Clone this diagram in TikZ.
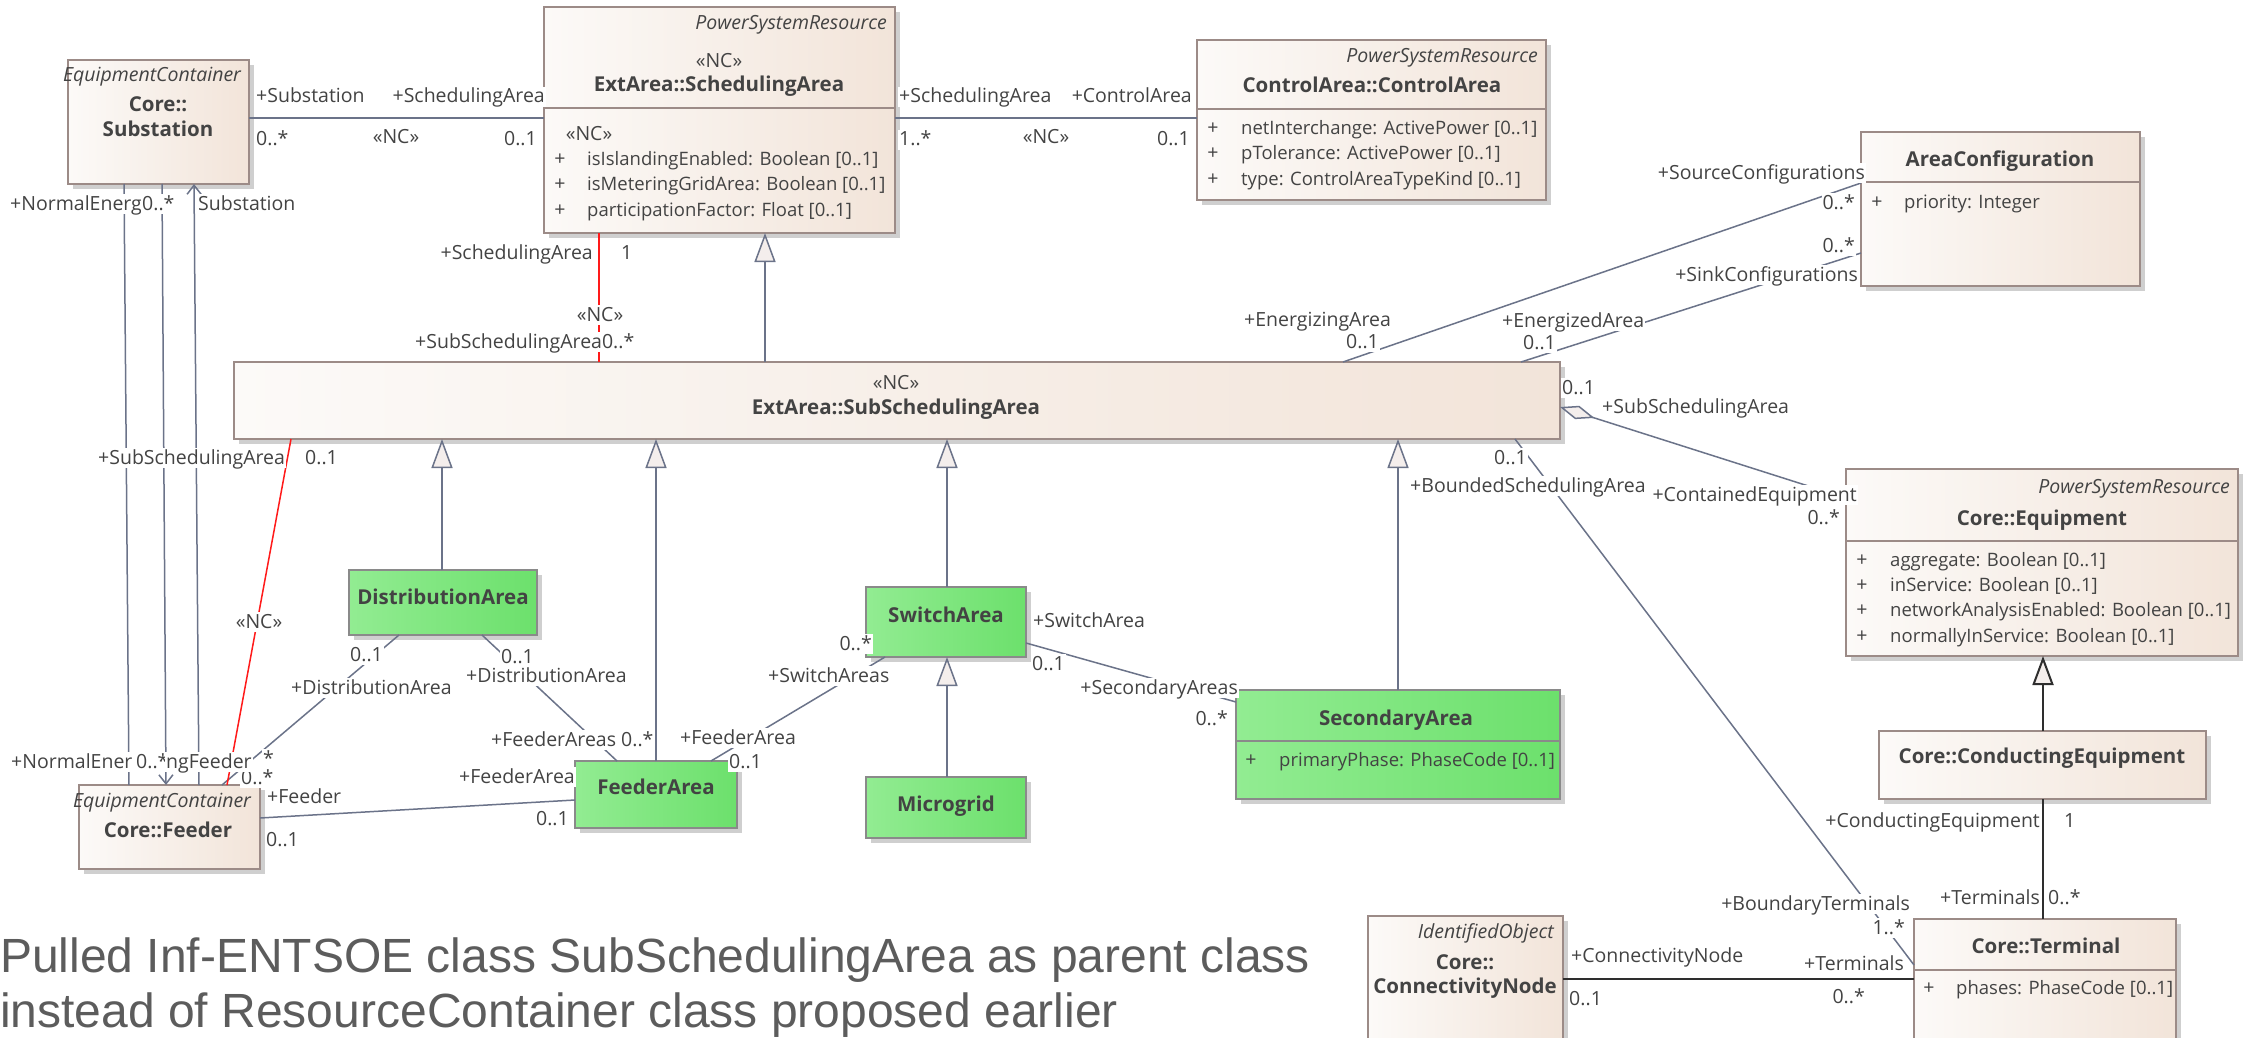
\documentclass[tikz,border=0pt]{standalone}
\usepackage{fontspec}
\setmainfont{Open Sans}
\newfontfamily\capfont{Liberation Sans}
\usetikzlibrary{arrows.meta,calc}
\definecolor{txt}{HTML}{434343}
\definecolor{lnc}{HTML}{6B7389}
\definecolor{bdr}{HTML}{9C8B87}
\definecolor{bgL}{HTML}{FCFAF8}
\definecolor{bgR}{HTML}{F2E4D9}
\definecolor{grL}{HTML}{92EC92}
\definecolor{grR}{HTML}{6CE06C}
\definecolor{grB}{HTML}{8A8A8A}
\definecolor{shd}{HTML}{CFCFCF}
\definecolor{redl}{HTML}{FF1A1A}
\definecolor{dark}{HTML}{2E2E2E}
\definecolor{capc}{HTML}{5C5C5C}
\definecolor{trif}{HTML}{F4EEEC}
\begin{document}
\begin{tikzpicture}[x=1pt,y=-1pt,
  cls/.style={draw=bdr, line width=1.3pt, left color=bgL, right color=bgR, anchor=north west,
    inner sep=0pt, outer sep=0pt, preaction={fill=shd, transform canvas={xshift=5pt,yshift=-5pt}}},
  grn/.style={cls, draw=grB, left color=grL, right color=grR},
  divl/.style={draw=bdr, line width=1.3pt},
  lbl/.style={font=\fontsize{19.5}{22}\selectfont, text=txt, fill=white, inner sep=1pt, text height=15pt, text depth=3pt},
  plain/.style={font=\fontsize{19.5}{22}\selectfont, text=txt, inner sep=0pt, text height=15pt, text depth=3pt},
  ttl/.style={font=\fontsize{20.5}{23}\selectfont\bfseries, text=txt, inner sep=0pt, text height=15pt, text depth=3pt},
  ster/.style={font=\fontsize{19.5}{22}\selectfont\itshape, text=txt, inner sep=0pt, text height=15pt, text depth=3pt},
  attr/.style={font=\fontsize{18.5}{22}\selectfont, text=txt, inner sep=0pt, text height=15pt, text depth=3pt, anchor=west},
  assoc/.style={draw=lnc, line width=1.5pt},
  redc/.style={draw=redl, line width=1.5pt},
  darkc/.style={draw=dark, line width=2pt},
  gen/.style={-{Triangle[length=29pt,width=21pt,fill=trif]}},
  capn/.style={font=\capfont\fontsize{48}{56}\selectfont, text=capc, inner sep=0pt, anchor=base west}
]
\clip (0,0) rectangle (2253,1038);
\fill[white] (0,0) rectangle (2253,1038);

% ---------------- boxes
\node[cls, minimum width=181pt, minimum height=124pt] (subst) at (68,60) {};
\node[cls, minimum width=351pt, minimum height=226pt] (sched) at (544,7) {};
\node[cls, minimum width=349pt, minimum height=160pt] (ctrl) at (1197,40) {};
\node[cls, minimum width=279pt, minimum height=154pt] (areaconf) at (1861,132) {};
\node[cls, minimum width=1326pt, minimum height=77pt] (subsched) at (234,362) {};
\node[cls, minimum width=392pt, minimum height=187pt] (equip) at (1846,469) {};
\node[cls, minimum width=327pt, minimum height=68pt] (conduct) at (1879,731) {};
\node[cls, minimum width=262pt, minimum height=140pt] (term) at (1914,919) {};
\node[cls, minimum width=195pt, minimum height=140pt] (cnode) at (1368,916) {};
\node[grn, minimum width=188pt, minimum height=65pt] (dist) at (349,570) {};
\node[grn, minimum width=160pt, minimum height=70pt] (switch) at (866,587) {};
\node[grn, minimum width=160pt, minimum height=61pt] (micro) at (866,777) {};
\node[grn, minimum width=162pt, minimum height=67pt] (farea) at (575,761) {};
\node[grn, minimum width=324pt, minimum height=109pt] (sec) at (1236,690) {};
\node[cls, minimum width=181pt, minimum height=84pt] (feeder) at (79,785) {};

% dividers
\draw[divl] ($(sched.north west)+(0,101)$) -- ($(sched.north east)+(0,101)$);
\draw[divl] ($(ctrl.north west)+(0,69)$) -- ($(ctrl.north east)+(0,69)$);
\draw[divl] ($(areaconf.north west)+(0,50)$) -- ($(areaconf.north east)+(0,50)$);
\draw[divl] ($(equip.north west)+(0,72)$) -- ($(equip.north east)+(0,72)$);
\draw[divl] ($(term.north west)+(0,51)$) -- ($(term.north east)+(0,51)$);
\draw[divl, draw=grB] ($(sec.north west)+(0,51)$) -- ($(sec.north east)+(0,51)$);

% ---------------- box texts
\node[ster] (substSt) at (152,76) {EquipmentContainer};
\node[ttl] (substN1) at (158,106) {Core::};
\node[ttl] (substN2) at (158,130) {Substation};

\node[ster, anchor=east] (schedSt) at (887,24) {PowerSystemResource};
\node[plain] (schedNC) at (719,62) {«NC»};
\node[ttl] (schedN) at (719,86) {ExtArea::SchedulingArea};
\node[plain] (schedNC2) at (589,135) {«NC»};
\node[plain] (schedP1) at (560,159) {+};
\node[attr] (schedA1) at (587,159) {isIslandingEnabled: Boolean [0..1]};
\node[plain] (schedP2) at (560,184) {+};
\node[attr] (schedA2) at (587,184) {isMeteringGridArea: Boolean [0..1]};
\node[plain] (schedP3) at (560,210) {+};
\node[attr] (schedA3) at (587,210) {participationFactor: Float [0..1]};

\node[ster, anchor=east] (ctrlSt) at (1538,57) {PowerSystemResource};
\node[ttl] (ctrlN) at (1372,87) {ControlArea::ControlArea};
\node[plain] (ctrlP1) at (1213,129) {+};
\node[attr] (ctrlA1) at (1241,129) {netInterchange: ActivePower [0..1]};
\node[plain] (ctrlP2) at (1213,154) {+};
\node[attr] (ctrlA2) at (1241,154) {pTolerance: ActivePower [0..1]};
\node[plain] (ctrlP3) at (1213,179) {+};
\node[attr] (ctrlA3) at (1241,179) {type: ControlAreaTypeKind [0..1]};

\node[ttl] (acN) at (2000,160) {AreaConfiguration};
\node[plain] (acP1) at (1877,202) {+};
\node[attr] (acA1) at (1904,202) {priority: Integer};

\node[plain] (ssNC) at (896,383) {«NC»};
\node[ttl] (ssN) at (896,408) {ExtArea::SubSchedulingArea};

\node[ster, anchor=east] (eqSt) at (2230,487) {PowerSystemResource};
\node[ttl] (eqN) at (2042,519) {Core::Equipment};
\node[plain] (eqP1) at (1862,560) {+};
\node[attr] (eqA1) at (1890,560) {aggregate: Boolean [0..1]};
\node[plain] (eqP2) at (1862,585) {+};
\node[attr] (eqA2) at (1890,585) {inService: Boolean [0..1]};
\node[plain] (eqP3) at (1862,610) {+};
\node[attr] (eqA3) at (1890,610) {networkAnalysisEnabled: Boolean [0..1]};
\node[plain] (eqP4) at (1862,636) {+};
\node[attr] (eqA4) at (1890,636) {normallyInService: Boolean [0..1]};

\node[ttl] (ceN) at (2042,757) {Core::ConductingEquipment};

\node[ttl] (tN) at (2046,947) {Core::Terminal};
\node[plain] (tP1) at (1929,988) {+};
\node[attr] (tA1) at (1956,988) {phases: PhaseCode [0..1]};

\node[ster, anchor=east] (cnSt) at (1554,932) {IdentifiedObject};
\node[ttl] (cnN1) at (1465,963) {Core::};
\node[ttl] (cnN2) at (1465,987) {ConnectivityNode};

\node[ttl] (distN) at (443,598) {DistributionArea};
\node[ttl] (swN) at (946,616) {SwitchArea};
\node[ttl] (mgN) at (946,805) {Microgrid};
\node[ttl] (faN) at (656,788) {FeederArea};
\node[ttl] (secN) at (1396,719) {SecondaryArea};
\node[plain] (secP1) at (1251,760) {+};
\node[attr] (secA1) at (1279,760) {primaryPhase: PhaseCode [0..1]};

\node[ster] (fdSt) at (162,801) {EquipmentContainer};
\node[ttl] (fdN) at (168,831) {Core::Feeder};

% ---------------- connectors
\draw[assoc] ($(subst.north east)+(0,58)$) -- ($(sched.north west)+(0,111)$);
\draw[assoc] ($(sched.north east)+(0,111)$) -- ($(ctrl.north west)+(0,78)$);
\draw[redc] ($(sched.south west)+(55,0)$) -- ($(subsched.north west)+(365,0)$);
\draw[assoc, gen] ($(subsched.north west)+(531,0)$) -- ($(sched.south west)+(221,0)$);
\draw[assoc] ($(subsched.north west)+(1109,0)$) -- ($(areaconf.north west)+(0,51)$);
\draw[assoc] ($(subsched.north west)+(1287,0)$) -- ($(areaconf.north west)+(0,121)$);
\draw[assoc, {Diamond[length=36pt,width=14pt,fill=trif]}-] ($(subsched.north east)+(0,45)$) -- ($(equip.north west)+(0,29)$);
\draw[assoc] ($(subsched.south west)+(1281,0)$) -- ($(term.north west)+(0,46)$);
\draw[darkc, gen] ($(conduct.north west)+(164,0)$) -- ($(equip.south west)+(197,0)$);
\draw[darkc] ($(conduct.south west)+(164,0)$) -- ($(term.north west)+(129,0)$);
\draw[darkc] ($(cnode.north east)+(0,63)$) -- ($(term.north west)+(0,60)$);
\draw[assoc, gen] ($(dist.north west)+(93,0)$) -- ($(subsched.south west)+(208,0)$);
\draw[assoc, gen] ($(farea.north west)+(81,0)$) -- ($(subsched.south west)+(422,0)$);
\draw[assoc, gen] ($(switch.north west)+(81,0)$) -- ($(subsched.south west)+(713,0)$);
\draw[assoc, gen] ($(sec.north west)+(162,0)$) -- ($(subsched.south west)+(1164,0)$);
\draw[assoc, gen] ($(micro.north west)+(81,0)$) -- ($(switch.south west)+(81,0)$);
\draw[assoc] ($(switch.north east)+(0,56)$) -- ($(sec.north west)+(0,12)$);
\draw[assoc] ($(switch.south west)+(19,0)$) -- ($(farea.north west)+(136,0)$);
\draw[assoc] ($(dist.south west)+(133,0)$) -- ($(farea.north west)+(42,0)$);
\draw[assoc] ($(dist.south west)+(50,0)$) -- ($(feeder.north west)+(143,0)$);
\draw[assoc] ($(feeder.north east)+(0,33)$) -- ($(farea.north west)+(0,39)$);
\draw[redc] ($(subsched.south west)+(57,0)$) -- ($(feeder.north west)+(148,0)$);
\draw[assoc] ($(subst.south west)+(56,0)$) -- ($(feeder.north west)+(50,0)$);
\draw[assoc, -{Straight Barb[length=9pt,width=14pt]}] ($(subst.south west)+(94,0)$) -- ($(feeder.north west)+(87,0)$);
\draw[assoc, {Straight Barb[length=9pt,width=14pt]}-] ($(subst.south west)+(126,0)$) -- ($(feeder.north west)+(120,0)$);

% ---------------- connector labels
\node[lbl, anchor=west] (L1) at (255,97) {+Substation};
\node[lbl, anchor=east] (L2) at (546,97) {+SchedulingArea};
\node[lbl, anchor=west] (L3) at (255,140) {0..*};
\node[lbl] (L4) at (396,137) {«NC»};
\node[lbl, anchor=east] (L5) at (538,140) {0..1};

\node[lbl, anchor=west] (L6) at (898,97) {+SchedulingArea};
\node[lbl, anchor=east] (L7) at (1193,97) {+ControlArea};
\node[lbl, anchor=west] (L8) at (898,140) {1..*};
\node[lbl] (L9) at (1046,137) {«NC»};
\node[lbl, anchor=east] (L10) at (1191,140) {0..1};

\node[lbl, anchor=east] (L11) at (594,253) {+SchedulingArea};
\node[lbl, anchor=west] (L12) at (620,253) {1};
\node[lbl] (L13) at (600,315) {«NC»};
\node[lbl, anchor=west] (L14) at (414,342) {+SubSchedulingArea0..*};

\node[lbl, anchor=west] (L15) at (1243,320) {+EnergizingArea};
\node[lbl, anchor=west] (L16) at (1345,342) {0..1};
\node[lbl, anchor=east] (L17) at (1866,173) {+SourceConfigurations};
\node[lbl, anchor=east] (L18) at (1856,203) {0..*};

\node[lbl, anchor=west] (L19) at (1501,321) {+EnergizedArea};
\node[lbl, anchor=west] (L20) at (1522,343) {0..1};
\node[lbl, anchor=east] (L21) at (1856,246) {0..*};
\node[lbl, anchor=east] (L22) at (1859,275) {+SinkConfigurations};

\node[lbl, anchor=west] (L23) at (1561,388) {0..1};
\node[lbl, anchor=west] (L24) at (1601,407) {+SubSchedulingArea};
\node[lbl, anchor=east] (L25) at (1858,495) {+ContainedEquipment};
\node[lbl, anchor=east] (L26) at (1841,518) {0..*};

\node[lbl, anchor=west] (L27) at (1493,458) {0..1};
\node[lbl, anchor=west] (L28) at (1409,486) {+BoundedSchedulingArea};
\node[lbl, anchor=east] (L29) at (1911,904) {+BoundaryTerminals};
\node[lbl, anchor=east] (L30) at (1906,928) {1..*};

\node[lbl, anchor=east] (L31) at (2041,821) {+ConductingEquipment};
\node[lbl, anchor=west] (L32) at (2063,821) {1};
\node[lbl, anchor=east] (L33) at (2041,898) {+Terminals};
\node[lbl, anchor=west] (L34) at (2047,898) {0..*};

\node[lbl, anchor=west] (L35) at (1570,956) {+ConnectivityNode};
\node[lbl, anchor=west] (L36) at (1568,999) {0..1};
\node[lbl, anchor=east] (L37) at (1905,964) {+Terminals};
\node[lbl, anchor=east] (L38) at (1866,997) {0..*};

\node[lbl, anchor=west] (L39) at (1032,621) {+SwitchArea};
\node[lbl, anchor=west] (L40) at (1031,664) {0..1};
\node[lbl, anchor=east] (L41) at (1239,688) {+SecondaryAreas};
\node[lbl, anchor=east] (L42) at (1229,719) {0..*};

\node[lbl, anchor=east] (L43) at (873,644) {0..*};
\node[lbl, anchor=west] (L44) at (767,676) {+SwitchAreas};
\node[lbl, anchor=west] (L45) at (679,738) {+FeederArea};
\node[lbl, anchor=west] (L46) at (728,762) {0..1};

\node[lbl, anchor=west] (L47) at (500,657) {0..1};
\node[lbl, anchor=west] (L48) at (465,676) {+DistributionArea};
\node[lbl, anchor=west] (L49) at (490,740) {+FeederAreas};
\node[lbl, anchor=west] (L50) at (620,740) {0..*};

\node[lbl, anchor=west] (L51) at (349,655) {0..1};
\node[lbl, anchor=west] (L52) at (290,688) {+DistributionArea};
\node[lbl, anchor=west] (L53) at (262,759) {*};
\node[lbl, anchor=west] (L54) at (240,778) {0..*};

\node[lbl, anchor=west] (L55) at (266,797) {+Feeder};
\node[lbl, anchor=west] (L56) at (265,840) {0..1};
\node[lbl, anchor=east] (L57) at (576,777) {+FeederArea};
\node[lbl, anchor=east] (L58) at (570,819) {0..1};

\node[lbl, anchor=west] (L59) at (97,458) {+SubSchedulingArea};
\node[lbl, anchor=west] (L60) at (304,458) {0..1};
\node[lbl] (L61) at (259,622) {«NC»};

\node[lbl, anchor=west] (L62) at (9,204) {+NormalEnerg};
\node[lbl, anchor=west] (L63) at (141,204) {0..*};
\node[lbl, anchor=west] (L64) at (197,204) {Substation};
\node[lbl, anchor=west] (L65) at (10,762) {+NormalEner};
\node[lbl, anchor=west] (L66) at (135,762) {0..*};
\node[lbl, anchor=west] (L67) at (165,762) {ngFeeder};

% ---------------- caption
\node[capn] (cap1) at (0,972) {Pulled Inf-ENTSOE class SubSchedulingArea as parent class};
\node[capn] (cap2) at (0,1027) {instead of ResourceContainer class proposed earlier};
\end{tikzpicture}
\end{document}
